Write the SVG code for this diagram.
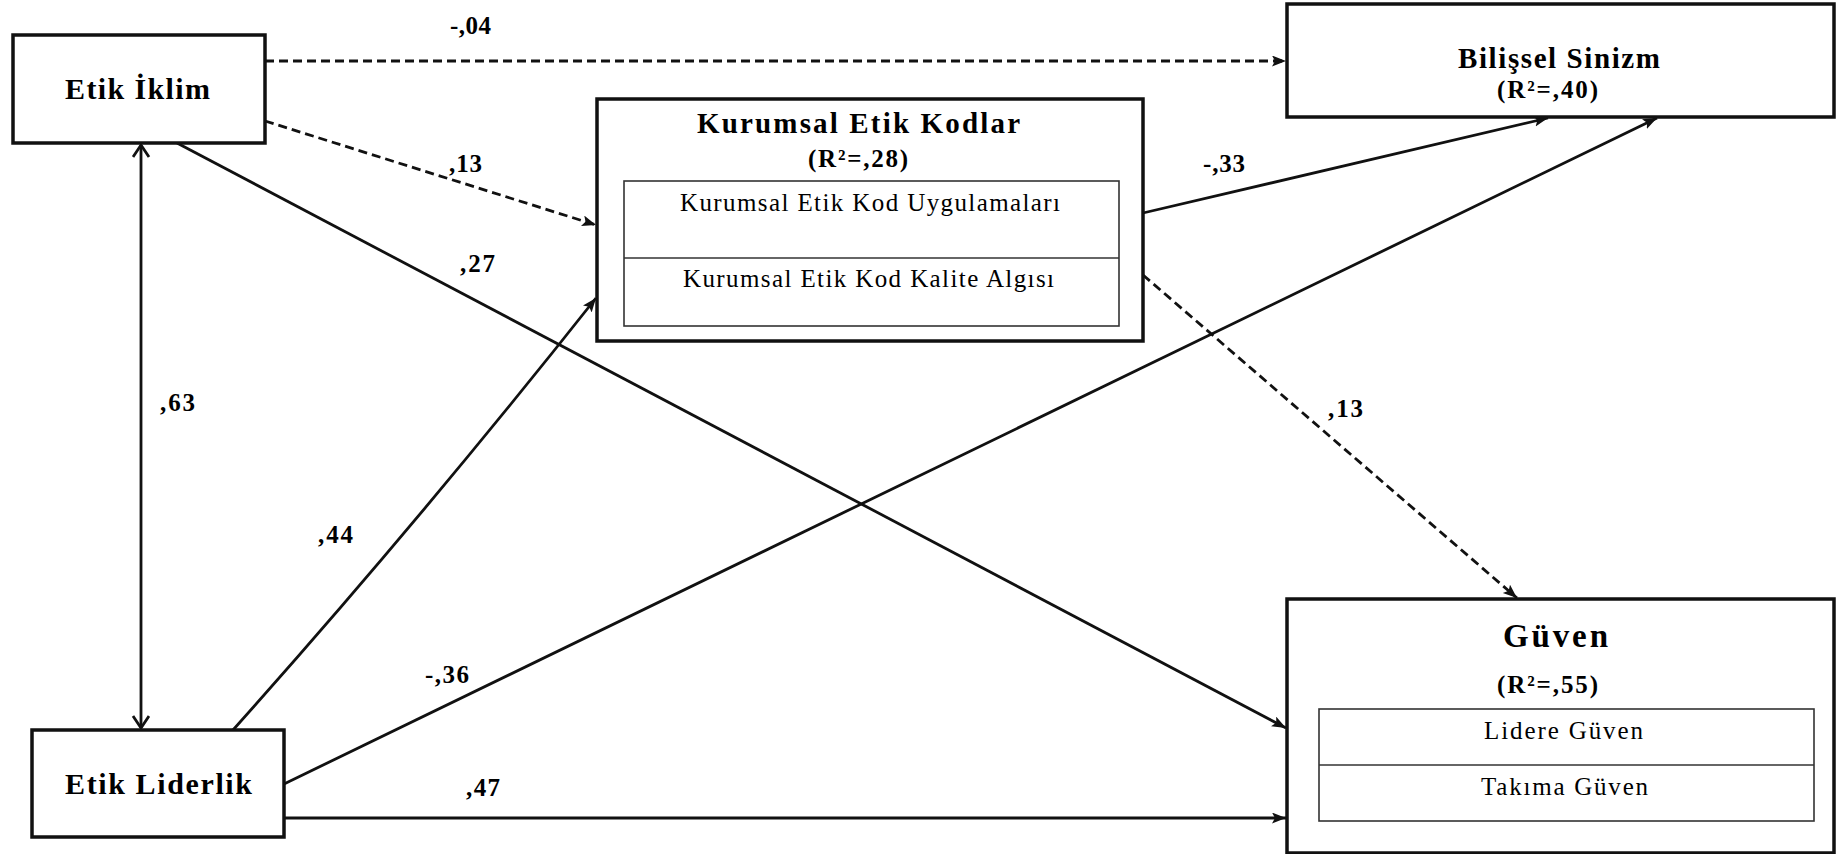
<svg xmlns="http://www.w3.org/2000/svg" width="1840" height="854" viewBox="0 0 1840 854">
  <style>
    .box { fill: #fff; stroke: #111; stroke-width: 3.5; }
    .inner { fill: none; stroke: #333; stroke-width: 1.6; }
    .title { font-family: "Liberation Serif", "Times New Roman", serif; font-weight: bold; fill: #000; }
    .sub { font-family: "Liberation Serif", "Times New Roman", serif; font-weight: normal; fill: #000; font-size: 25px; }
    .lbl { font-family: "Liberation Serif", "Times New Roman", serif; font-weight: bold; fill: #000; font-size: 25px; }
    .edge { fill: none; stroke: #111; stroke-width: 2.8; }
    .dash { stroke-dasharray: 9 5; }
  </style>
  <defs>
    <marker id="arrow" markerUnits="userSpaceOnUse" markerWidth="16" markerHeight="12" refX="14" refY="5.5" orient="auto">
      <path d="M0,0 L14,5.5 L0,11 L3,5.5 z" fill="#111"/>
    </marker>
    <marker id="open" markerUnits="userSpaceOnUse" markerWidth="16" markerHeight="20" refX="13" refY="9" orient="auto-start-reverse">
      <path d="M1,1 L13,9 L1,17" fill="none" stroke="#111" stroke-width="2.8"/>
    </marker>
  </defs>

  <!-- paths between constructs -->
  <g id="connectors">
    <line class="edge dash" x1="265" y1="61" x2="1286" y2="61" marker-end="url(#arrow)"/>
    <line class="edge dash" x1="265" y1="121" x2="596" y2="225" marker-end="url(#arrow)"/>
    <line class="edge" x1="177" y1="143" x2="1286" y2="728" marker-end="url(#arrow)"/>
    <line class="edge" x1="141" y1="145" x2="141" y2="728" marker-start="url(#open)" marker-end="url(#open)"/>
    <path class="edge" d="M233,730 Q418,523 596,298" marker-end="url(#arrow)"/>
    <line class="edge" x1="284" y1="784" x2="1657" y2="118" marker-end="url(#arrow)"/>
    <line class="edge" x1="284" y1="818" x2="1286" y2="818" marker-end="url(#arrow)"/>
    <line class="edge" x1="1143" y1="213" x2="1548" y2="118" marker-end="url(#arrow)"/>
    <line class="edge dash" x1="1143" y1="275" x2="1517" y2="598" marker-end="url(#arrow)"/>

    <text class="lbl" x="450" y="34" textLength="41">-,04</text>
    <text class="lbl" x="449" y="172" textLength="33">,13</text>
    <text class="lbl" x="460" y="272" textLength="35">,27</text>
    <text class="lbl" x="160" y="411" textLength="35">,63</text>
    <text class="lbl" x="318" y="543" textLength="35">,44</text>
    <text class="lbl" x="425" y="683" textLength="44">-,36</text>
    <text class="lbl" x="466" y="796" textLength="34">,47</text>
    <text class="lbl" x="1203" y="172" textLength="42">-,33</text>
    <text class="lbl" x="1328" y="417" textLength="35">,13</text>
  </g>

  <g id="etik-iklim">
    <rect class="box" x="13" y="35" width="252" height="108"/>
    <text class="title" x="65" y="99" font-size="30" textLength="145">Etik İklim</text>
  </g>

  <g id="etik-liderlik">
    <rect class="box" x="32" y="730" width="252" height="107"/>
    <text class="title" x="65" y="794" font-size="30" textLength="187">Etik Liderlik</text>
  </g>

  <g id="kurumsal-etik-kodlar">
    <rect class="box" x="597" y="99" width="546" height="242"/>
    <text class="title" x="697" y="133" font-size="29" textLength="323">Kurumsal Etik Kodlar</text>
    <text class="title" x="808" y="167" font-size="25" textLength="100">(R²=,28)</text>
    <rect class="inner" x="624" y="181" width="495" height="145"/>
    <line class="inner" x1="624" y1="258" x2="1119" y2="258"/>
    <text class="sub" x="680" y="211" textLength="380">Kurumsal Etik Kod Uygulamaları</text>
    <text class="sub" x="683" y="287" textLength="371">Kurumsal Etik Kod Kalite Algısı</text>
  </g>

  <g id="bilissel-sinizm">
    <rect class="box" x="1287" y="4" width="547" height="113"/>
    <text class="title" x="1458" y="68" font-size="29" textLength="202">Bilişsel Sinizm</text>
    <text class="title" x="1497" y="98" font-size="25" textLength="101">(R²=,40)</text>
  </g>

  <g id="guven">
    <rect class="box" x="1287" y="599" width="547" height="254"/>
    <text class="title" x="1503" y="647" font-size="33" textLength="105">Güven</text>
    <text class="title" x="1497" y="693" font-size="25" textLength="101">(R²=,55)</text>
    <rect class="inner" x="1319" y="709" width="495" height="112"/>
    <line class="inner" x1="1319" y1="765" x2="1814" y2="765"/>
    <text class="sub" x="1484" y="739" textLength="159">Lidere Güven</text>
    <text class="sub" x="1481" y="795" textLength="167">Takıma Güven</text>
  </g>
</svg>
